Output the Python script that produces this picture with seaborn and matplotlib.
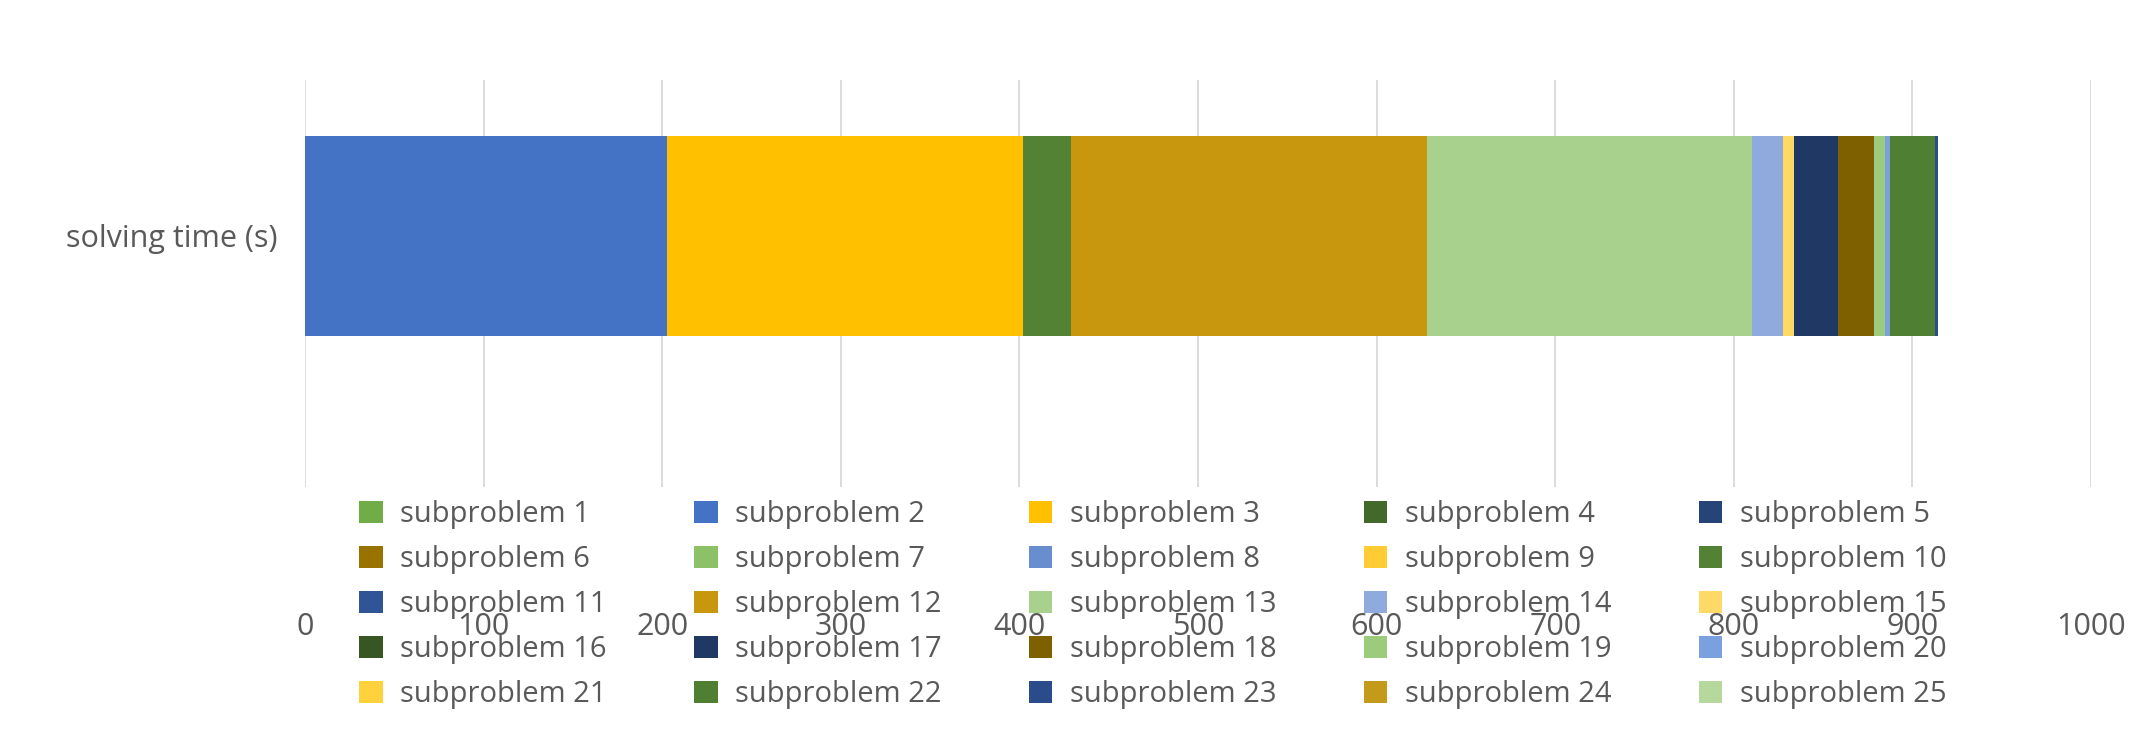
import numpy as np
import pandas as pd
import matplotlib
matplotlib.use("Agg")
import matplotlib.pyplot as plt
import seaborn as sns
from matplotlib.patches import Patch

sns.set_style("white")
plt.rcParams['font.family'] = ['Open Sans', 'DejaVu Sans']

category = "solving time (s)"
labels = [f"subproblem {i}" for i in range(1, 26)]
values = [0, 202.6, 199.2, 0, 0, 0, 0, 0, 0, 27.2, 0, 199.0, 182.0, 17.6, 6.0,
          0, 24.5, 20.5, 6.0, 3.0, 0, 24.8, 2.2, 0, 0]
colors = ["#70AD47", "#4472C4", "#FFC000", "#43682B", "#264478",
          "#997300", "#8CC168", "#698ED0", "#FFCD33", "#548235",
          "#2F5597", "#C9970E", "#A9D18E", "#8FAADC", "#FFD966",
          "#375623", "#1F3864", "#7F6000", "#9DCB7C", "#7BA0E0",
          "#FFD23D", "#4F7F33", "#2A4C8A", "#C49A1A", "#B5D99C"]

cum = np.cumsum(values)

fig = plt.figure(figsize=(21.55, 7.31), dpi=100)
ax = fig.add_axes([305/2155, 1-487/731, (2091-305)/2155, 407/731])

for i in reversed(range(len(values))):
    if values[i] <= 0:
        continue
    df = pd.DataFrame({"x": [cum[i]], "y": [category]})
    sns.barplot(data=df, x="x", y="y", color=colors[i], width=0.5,
                saturation=1, ax=ax, orient="h", edgecolor="none")

ax.set_xlim(0, 1000)
ax.set_ylim(0.6275, -0.39)
ax.set_xticks(range(0, 1001, 100))
ax.grid(axis="x", color="#D9D9D9", linewidth=1.3)
ax.set_axisbelow(True)
for s in ax.spines.values():
    s.set_visible(False)
ax.set_xlabel("")
ax.set_ylabel("")
ax.tick_params(axis="x", labelsize=22, labelcolor="#595959", length=0, pad=90)
ax.tick_params(axis="y", labelsize=22, labelcolor="#595959", length=0, pad=20)

ncol, nrow = 5, 5
order = [r * ncol + c for c in range(ncol) for r in range(nrow)]
handles = [Patch(facecolor=colors[k], edgecolor="none") for k in order]
leg_labels = [labels[k] for k in order]
fig.legend(handles, leg_labels, ncol=ncol, loc="upper center",
           bbox_to_anchor=(0.535, 1 - 500/731),
           frameon=False, fontsize=21, labelcolor="#595959", handlelength=0.8,
           handleheight=0.8, handletextpad=0.6, columnspacing=3.0,
           labelspacing=0.55, borderaxespad=0, borderpad=0)

fig.savefig("out.png", dpi=100)
